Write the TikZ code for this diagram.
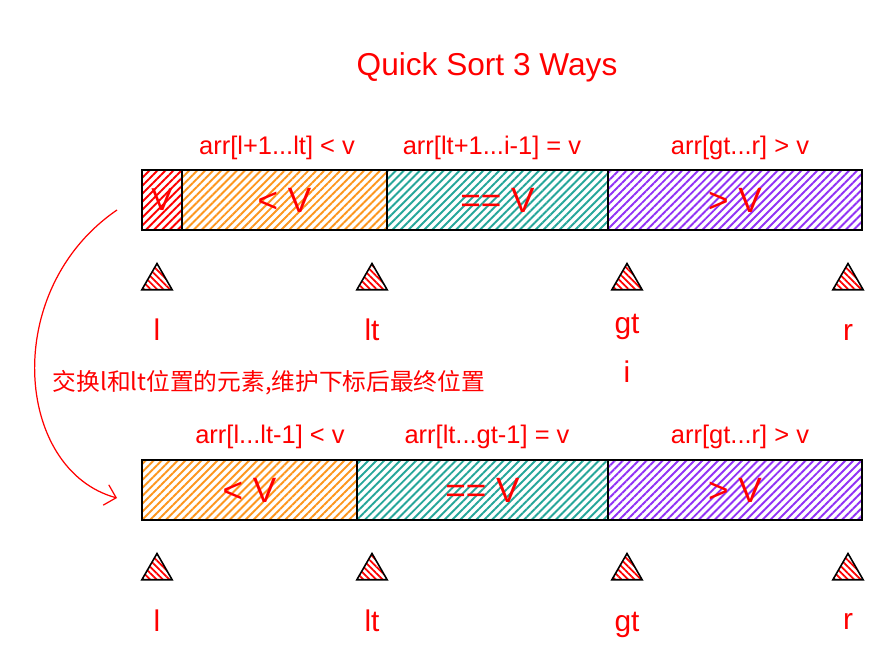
\documentclass[tikz,border=0pt]{standalone}
\usepackage{fontspec}
\setmainfont{Liberation Sans}
\newfontfamily\cjkfont{Noto Sans CJK SC}
\usepackage{tikz}
\usetikzlibrary{arrows.meta,patterns.meta,positioning,shapes.geometric}
\definecolor{qsRed}{RGB}{255,0,0}
\definecolor{qsOrange}{RGB}{253,150,30}
\definecolor{qsTeal}{RGB}{38,166,154}
\definecolor{qsPurple}{RGB}{145,50,245}

\begin{document}
\begin{tikzpicture}[
    x=0.02cm, y=-0.02cm,
    cell/.style={draw=black, line width=0.8pt, minimum height=1.2cm, inner sep=0pt, outer sep=0pt,
      pattern={Lines[angle=45,distance=3.2pt,line width=1.1pt]}, pattern color=#1,
      text=qsRed, font=\fontsize{20}{20}\selectfont},
    marker/.style={draw=black, line width=0.9pt, regular polygon, regular polygon sides=3,
      minimum size=0.7cm, inner sep=0pt,
      pattern={Lines[angle=-45,distance=2.6pt,line width=1pt]}, pattern color=qsRed},
    spanlbl/.style={text=qsRed, font=\fontsize{14.5}{14.5}\selectfont},
    idx/.style={text=qsRed, font=\fontsize{17}{17}\selectfont},
    >={Straight Barb[length=6pt]}
  ]
  \useasboundingbox (0,0) rectangle (889,662);

  \node[text=qsRed, font=\fontsize{18}{18}\selectfont] (title) at (487,67) {Quick Sort 3 Ways};

  % before the swap
  \node[cell=qsRed, minimum width=0.8cm, anchor=west, font=\fontsize{18}{18}\selectfont] (pivot) at (142,200) {V};
  \node[cell=qsOrange, minimum width=4.1cm, right=0pt of pivot] (less) {< V};
  \node[cell=qsTeal, minimum width=4.42cm, right=0pt of less] (equal) {== V};
  \node[cell=qsPurple, minimum width=5.08cm, right=0pt of equal] (more) {> V};

  \node[spanlbl] (lessLbl) at (277,148) {arr[l+1...lt] < v};
  \node[spanlbl] (equalLbl) at (492,148) {arr[lt+1...i-1] = v};
  \node[spanlbl] (moreLbl) at (740,148) {arr[gt...r] > v};

  \node[marker] (ml) at (157,281) {};
  \node[marker] (mlt) at (372,281) {};
  \node[marker] (mgt) at (627,281) {};
  \node[marker] (mr) at (848,281) {};
  \node[idx] (tl) at (157,330) {l};
  \node[idx] (tlt) at (372,330) {lt};
  \node[idx] (tgt) at (627,327) {gt};
  \node[idx] (tr) at (848,332) {r};
  \node[idx] (ti) at (627,372) {i};

  \node[text=qsRed, font=\cjkfont\fontsize{13.5}{13.5}\selectfont] (swap) at (269,383)
    {交换l和lt位置的元素,维护下标后最终位置};

  % after the swap
  \node[cell=qsOrange, minimum width=4.3cm, anchor=west] (less2) at (142,490) {< V};
  \node[cell=qsTeal, minimum width=5.02cm, right=0pt of less2] (equal2) {== V};
  \node[cell=qsPurple, minimum width=5.08cm, right=0pt of equal2] (more2) {> V};

  \node[spanlbl] (lessLbl2) at (270,437) {arr[l...lt-1] < v};
  \node[spanlbl] (equalLbl2) at (487,437) {arr[lt...gt-1] = v};
  \node[spanlbl] (moreLbl2) at (740,437) {arr[gt...r] > v};

  \node[marker] (bl) at (157,571) {};
  \node[marker] (blt) at (372,571) {};
  \node[marker] (bgt) at (627,571) {};
  \node[marker] (br) at (848,571) {};
  \node[idx] (sl) at (157,621) {l};
  \node[idx] (slt) at (372,621) {lt};
  \node[idx] (sgt) at (627,625) {gt};
  \node[idx] (sr) at (848,621) {r};

  \coordinate (from) at ([xshift=-0.5cm,yshift=-0.2cm]pivot.west);
  \coordinate (to) at ([xshift=-0.5cm,yshift=-0.16cm]less2.west);
  \draw[->, qsRed, line width=0.7pt] (from) .. controls (0,290) and (15,470) .. (to);
\end{tikzpicture}
\end{document}
